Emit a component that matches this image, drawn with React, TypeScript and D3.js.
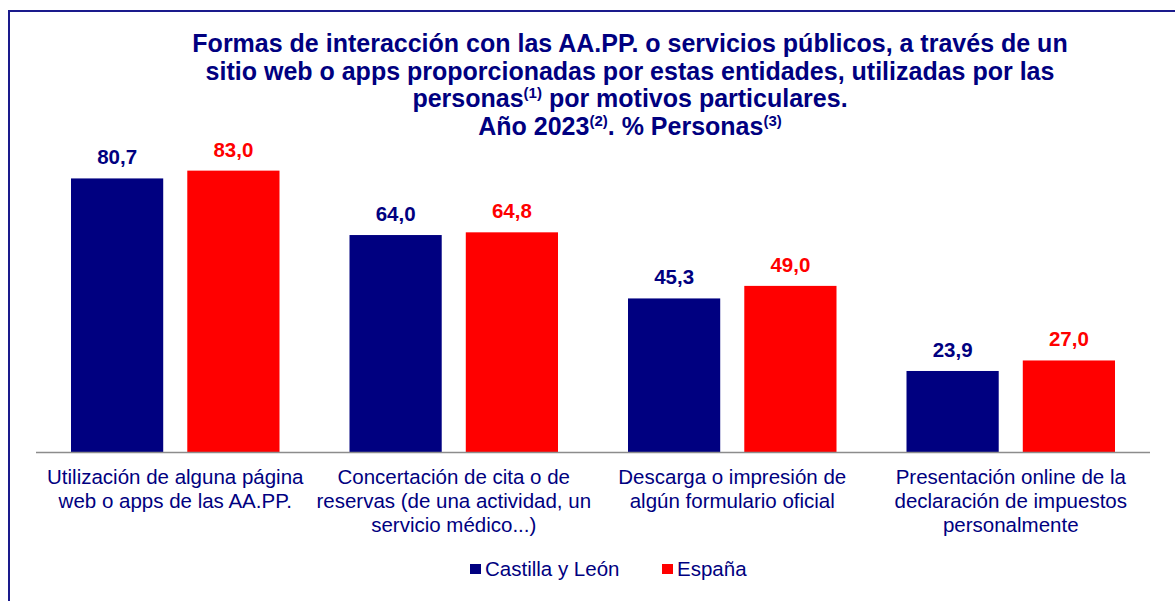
import React from "react";
import * as d3 from "d3";

const categories: string[][] = [
  ["Utilización de alguna página", "web o apps de las AA.PP."],
  ["Concertación de cita o de", "reservas (de una actividad, un", "servicio médico...)"],
  ["Descarga o impresión de", "algún formulario oficial"],
  ["Presentación online de la", "declaración de impuestos", "personalmente"],
];
const seriesNames = ["Castilla y León", "España"];
const castillaLeon = [80.7, 64.0, 45.3, 23.9];
const espana = [83.0, 64.8, 49.0, 27.0];
const seriesColors = ["#000080", "#FF0000"];

const W = 1175;
const H = 601;
const NAVY = "#000080";
const FONT = "'Liberation Sans', Arial, Helvetica, sans-serif";

export default function App() {
  const x0 = d3
    .scaleBand<number>()
    .domain(d3.range(categories.length))
    .range([36, 1150])
    .paddingInner(0)
    .paddingOuter(0);
  const x1 = d3
    .scaleBand<number>()
    .domain([0, 1])
    .range([35, x0.bandwidth() - 35])
    .paddingInner(0.207);
  const y = d3.scaleLinear().domain([0, 100]).range([452, 113]);
  const fmt = (v: number) => v.toFixed(1).replace(".", ",");
  const series = [castillaLeon, espana];

  return (
    <svg
      width={W}
      height={H}
      style={{ position: "absolute", left: 0, top: 0, fontFamily: FONT, overflow: "hidden" }}
    >
      <rect x={0} y={0} width={W} height={H} fill="#ffffff" />
      <rect x={9} y={11} width={1300} height={800} fill="none" stroke="#1a1a8c" strokeWidth={2} />

      <g fill={NAVY} fontWeight="bold" fontSize={25} textAnchor="middle">
        <text x={630} y={52}>
          Formas de interacción con las AA.PP. o servicios públicos, a través de un
        </text>
        <text x={630} y={80}>
          sitio web o apps proporcionadas por estas entidades, utilizadas por las
        </text>
        <text x={630} y={107}>
          personas<tspan fontSize={15} dy={-9}>(1)</tspan>
          <tspan dy={9}> por motivos particulares.</tspan>
        </text>
        <text x={630} y={135}>
          Año 2023<tspan fontSize={15} dy={-9}>(2)</tspan>
          <tspan dy={9}>. % Personas</tspan>
          <tspan fontSize={15} dy={-9}>(3)</tspan>
        </text>
      </g>

      {categories.map((_, i) => (
        <g key={i} transform={`translate(${x0(i)},0)`}>
          {series.map((s, j) => (
            <g key={j}>
              <rect
                x={x1(j)}
                y={y(s[i])}
                width={x1.bandwidth()}
                height={y(0) - y(s[i])}
                fill={seriesColors[j]}
              />
              <text
                x={(x1(j) as number) + x1.bandwidth() / 2}
                y={y(s[i]) - 14}
                textAnchor="middle"
                fontWeight="bold"
                fontSize={20.5}
                fill={seriesColors[j]}
              >
                {fmt(s[i])}
              </text>
            </g>
          ))}
        </g>
      ))}

      <line x1={36} x2={1150} y1={y(0) + 0.5} y2={y(0) + 0.5} stroke="#8c8c8c" strokeWidth={1.5} />

      {categories.map((lines, i) => (
        <text
          key={i}
          x={(x0(i) as number) + x0.bandwidth() / 2}
          textAnchor="middle"
          fontSize={20.5}
          fill={NAVY}
        >
          {lines.map((l, k) => (
            <tspan key={k} x={(x0(i) as number) + x0.bandwidth() / 2} y={484 + k * 24}>
              {l}
            </tspan>
          ))}
        </text>
      ))}

      {seriesNames.map((name, j) => {
        const lx = [470, 662][j];
        return (
          <g key={name}>
            <rect x={lx} y={564} width={11} height={10} fill={seriesColors[j]} />
            <text x={lx + 15} y={576} fontSize={20.5} fill={NAVY}>
              {name}
            </text>
          </g>
        );
      })}
    </svg>
  );
}
